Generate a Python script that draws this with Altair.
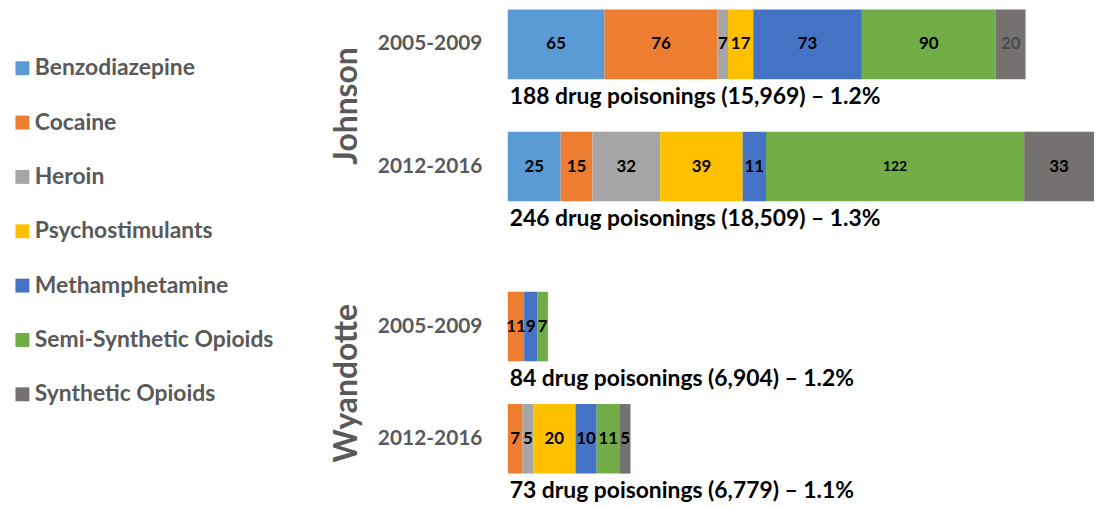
import altair as alt
import pandas as pd

drugs = ["Benzodiazepine", "Cocaine", "Heroin", "Psychostimulants",
         "Methamphetamine", "Semi-Synthetic Opioids", "Synthetic Opioids"]
colors = ["#5B9BD5", "#ED7D31", "#A5A5A5", "#FFC000", "#4472C4", "#70AD47", "#767171"]
periods = ["2005-2009", "2012-2016"]

johnson_2005 = [65, 76, 7, 17, 73, 90, 20]
johnson_2012 = [25, 15, 32, 39, 11, 122, 33]
wyandotte_2005 = [None, 11, None, None, 9, 7, None]
wyandotte_2012 = [None, 7, 5, 20, 10, 11, 5]

notes = {
    ("Johnson", "2005-2009"): "188 drug poisonings (15,969) \u2013 1.2%",
    ("Johnson", "2012-2016"): "246 drug poisonings (18,509) \u2013 1.3%",
    ("Wyandotte", "2005-2009"): "84 drug poisonings (6,904) \u2013 1.2%",
    ("Wyandotte", "2012-2016"): "73 drug poisonings (6,779) \u2013 1.1%",
}

series = {
    ("Johnson", "2005-2009"): johnson_2005,
    ("Johnson", "2012-2016"): johnson_2012,
    ("Wyandotte", "2005-2009"): wyandotte_2005,
    ("Wyandotte", "2012-2016"): wyandotte_2012,
}

rows = []
for (county, period), vals in series.items():
    for i, (d, v) in enumerate(zip(drugs, vals)):
        if v is not None:
            rows.append({"county": county, "period": period, "drug": d, "order": i, "value": v})
df = pd.DataFrame(rows)

FONT = "Lato"
# per-period x extents (the source draws each period on its own scale)
x_max = {"2005-2009": 394, "2012-2016": 277}

legend = alt.Legend(
    orient="none", legendX=-503, legendY=44.5, title=None,
    symbolType="square", symbolSize=196, symbolStrokeWidth=0, symbolOpacity=1,
    labelFont=FONT, labelFontSize=23, labelFontWeight="bold", labelColor="#595959",
    labelLimit=400, rowPadding=30.7, labelOffset=1, padding=3,
)
color = alt.Color("drug:N", scale=alt.Scale(domain=drugs, range=colors), legend=legend)


def period_layer(county, period, y_enc):
    d = df[(df.county == county) & (df.period == period)]
    xs = alt.Scale(domain=[0, x_max[period]], nice=False, zero=True)
    base = alt.Chart(d).transform_stack(
        stack="value", as_=["x0", "x1"], groupby=["period"],
        sort=[alt.SortField("order", order="ascending")],
    ).transform_calculate(mid="(datum.x0 + datum.x1) / 2")
    bars = base.mark_bar().encode(
        x=alt.X("x0:Q", scale=xs, axis=None),
        x2="x1:Q",
        y=y_enc,
        color=color,
    )
    labels = base.mark_text(font=FONT, fontWeight="bold", baseline="middle", align="center").encode(
        x=alt.X("mid:Q", scale=xs, axis=None),
        y=y_enc,
        text="value:Q",
        size=alt.condition("datum.value >= 100", alt.value(14), alt.value(17)),
        color=alt.condition(
            "datum.drug == 'Synthetic Opioids' && datum.value == 20",
            alt.value("#4a4a4a"), alt.value("#000000")),
    )
    nd = pd.DataFrame({"period": [period], "note": [notes[(county, period)]]})
    ann = alt.Chart(nd).mark_text(
        font=FONT, fontWeight="bold", fontSize=23, align="left", baseline="middle",
        dy=53, dx=2, color="#000000",
    ).encode(
        x=alt.X(datum=0, type="quantitative", scale=xs, axis=None),
        y=y_enc,
        text="note:N",
    )
    return alt.layer(bars, labels, ann)


def panel(county, height, pad_inner):
    y_enc = alt.Y(
        "period:N",
        scale=alt.Scale(domain=periods, paddingInner=pad_inner, paddingOuter=0),
        axis=alt.Axis(
            title=county, titleFont=FONT, titleFontSize=32, titleFontWeight="bold",
            titleColor="#595959", titlePadding=14,
            labelFont=FONT, labelFontSize=21, labelFontWeight="bold", labelColor="#595959",
            labelPadding=26, ticks=False, domain=False,
        ),
    )
    return alt.layer(
        period_layer(county, "2005-2009", y_enc),
        period_layer(county, "2012-2016", y_enc),
    ).resolve_scale(x="independent").properties(width=590, height=height)


johnson = panel("Johnson", 193, 0.431)
wyandotte = panel("Wyandotte", 183, 0.3805)

chart = alt.vconcat(johnson, wyandotte, spacing=91, bounds="flush").properties(
    padding=0
).configure_view(stroke=None)

chart.save("out.html", embed_options={"renderer": "svg", "actions": False})
